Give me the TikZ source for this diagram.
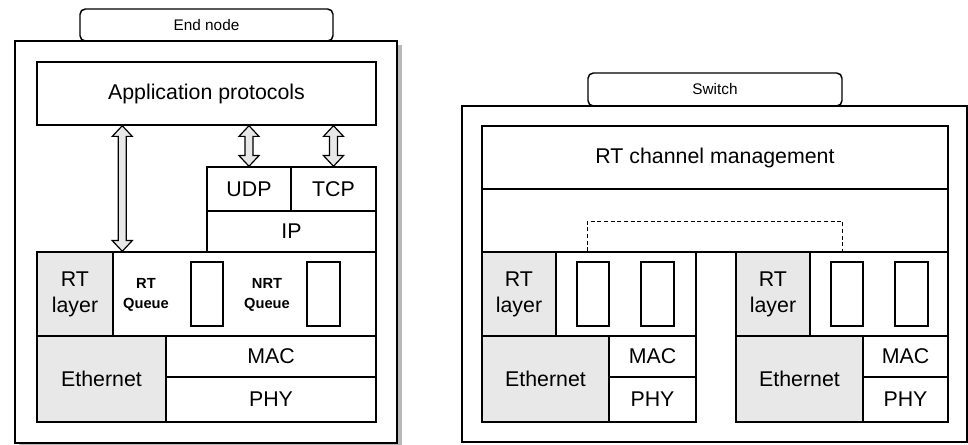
\documentclass[tikz,border=0pt]{standalone}
\usepackage{fontspec}
\setmainfont{Liberation Sans}
\usepackage{tikz}
\usetikzlibrary{calc,positioning}

\begin{document}
\begin{tikzpicture}[x=0.75pt, y=-0.75pt,
    spans/.style n args={4}{at={({((#1)+(#3))/2},{((#2)+(#4))/2})},
        minimum width={((#3)-(#1))*0.75pt}, minimum height={((#4)-(#2))*0.75pt}},
    blk/.style={draw, line width=1.1pt, fill=white, inner sep=0pt, align=center,
        font=\fontsize{16}{19.5}\selectfont},
    grayblk/.style={blk, fill=gray!18},
    qslot/.style={draw, line width=1.1pt, fill=white, inner sep=0pt},
    tabbox/.style={draw, line width=1.1pt, fill=white, rounded corners=4pt, inner sep=0pt,
        font=\fontsize{11.5}{14}\selectfont},
    qtxt/.style={align=center, inner sep=0pt, font=\fontsize{11}{15.5}\selectfont\bfseries},
    biarrow/.style={draw, line width=0.9pt, fill=gray!18, to path={
        let \p1=(\tikztostart), \p2=(\tikztotarget) in
        (\x1,\y1) -- (\x1+7.5pt,\y1-8pt) -- (\x1+3pt,\y1-8pt) -- (\x1+3pt,\y2+8pt)
        -- (\x1+7.5pt,\y2+8pt) -- (\x1,\y2) -- (\x1-7.5pt,\y2+8pt) -- (\x1-3pt,\y2+8pt)
        -- (\x1-3pt,\y1-8pt) -- (\x1-7.5pt,\y1-8pt) -- cycle}},
    chan/.style={line width=0.9pt, dash pattern=on 3pt off 2pt}]
    \useasboundingbox (0,0) rectangle (968,445);

    % End node frame
    \node[tabbox, spans={80}{9}{333}{41}] (endtab) {End node};
    \fill[gray!55] (19,45) rectangle (402,448);
    \node[blk, spans={15}{41}{397}{443}] (endnode) {};

    % End node stack
    \node[blk, spans={37}{62}{376}{125}] (app) {Application protocols};
    \node[blk, spans={207}{167}{291}{211}] (udp) {UDP};
    \node[blk, spans={291}{167}{376}{211}] (tcp) {TCP};
    \node[blk, spans={207}{211}{376}{252}] (ip) {IP};
    \node[grayblk, spans={37}{252}{113}{336}] (rtl) {RT\\layer};
    \node[blk, spans={113}{252}{376}{336}] (rtq) {};
    \node[qtxt] (rtqlbl) at (146,295) {RT\\Queue};
    \node[qslot, spans={191}{262}{223}{326}] (q1) {};
    \node[qtxt] (nrtqlbl) at (267,295) {NRT\\Queue};
    \node[qslot, spans={307}{262}{340}{326}] (q2) {};
    \node[grayblk, spans={37}{336}{166}{422}] (eth) {Ethernet};
    \node[blk, spans={166}{336}{376}{377}] (mac) {MAC};
    \node[blk, spans={166}{377}{376}{422}] (phy) {PHY};

    % Arrows to the application
    \coordinate (rtup) at ($(app.south west)+(86,0)$);
    \draw[biarrow] (rtup) to (rtup |- rtq.north);
    \draw[biarrow] (app.south -| udp.north) to (udp.north);
    \draw[biarrow] (app.south -| tcp.north) to (tcp.north);

    % Switch frame
    \node[tabbox, spans={588}{73}{842}{106}] (swtab) {Switch};
    \node[blk, spans={462}{106}{967}{442}] (switch) {};
    \node[blk, spans={482}{126}{948}{189}] (mgmt) {RT channel management};
    \node[blk, spans={482}{189}{948}{252}] (chanarea) {};

    % Switch ports
    \foreach \pt/\ox/\w in {l/482/214, r/736/212} {
        \node[grayblk, spans={\ox}{252}{\ox+74}{336}] (\pt rt) {RT\\layer};
        \node[blk, spans={\ox+74}{252}{\ox+\w}{336}] (\pt q) {};
        \node[qslot, spans={\ox+95}{262}{\ox+127}{326}] (\pt q1) {};
        \node[qslot, spans={\ox+159}{262}{\ox+192}{326}] (\pt q2) {};
        \node[grayblk, spans={\ox}{336}{\ox+127}{422}] (\pt eth) {Ethernet};
        \node[blk, spans={\ox+127}{336}{\ox+\w}{377}] (\pt mac) {MAC};
        \node[blk, spans={\ox+127}{377}{\ox+\w}{422}] (\pt phy) {PHY};
    }

    % RT channel between ports
    \draw[chan] (lq.north -| swtab.west) -- ++(0,-30) -| (rq.north -| swtab.east);
\end{tikzpicture}
\end{document}
